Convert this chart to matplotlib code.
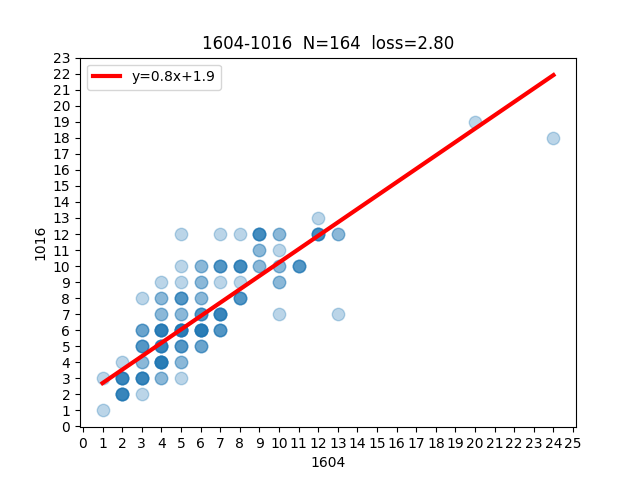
import numpy as np
import matplotlib.pyplot as plt

# (x, y, count); darker dots = more overlapping samples
pts_x = [1, 1, 2, 2, 2, 3, 3, 3, 3, 3, 3, 4, 4, 4, 4, 4, 4, 4,
         5, 5, 5, 5, 5, 5, 5, 5, 5, 6, 6, 6, 6, 6, 6, 7, 7, 7, 7, 7,
         8, 8, 8, 8, 9, 9, 9, 10, 10, 10, 10, 10, 11, 12, 12, 13, 13, 20, 24]
pts_y = [1, 3, 2, 3, 4, 2, 3, 4, 5, 6, 8, 3, 4, 5, 6, 7, 8, 9,
         3, 4, 5, 6, 7, 8, 9, 10, 12, 5, 6, 7, 8, 9, 10, 6, 7, 9, 10, 12,
         8, 9, 10, 12, 10, 11, 12, 7, 9, 10, 11, 12, 10, 12, 13, 7, 12, 19, 18]
counts = [1, 1, 6, 6, 1, 1, 6, 2, 4, 3, 1, 2, 8, 6, 7, 2, 2, 1,
          1, 2, 4, 8, 2, 4, 1, 1, 1, 3, 8, 4, 2, 2, 2, 4, 6, 1, 4, 1,
          4, 1, 5, 1, 2, 2, 5, 1, 2, 2, 1, 2, 4, 5, 1, 1, 2, 1, 1]

slope = 0.835
intercept = 1.87

x = np.repeat(pts_x, counts)
y = np.repeat(pts_y, counts)

fig, ax = plt.subplots(figsize=(6.4, 4.8), dpi=100)
ax.scatter(x, y, s=80, alpha=0.3, color='#1f77b4')
xl = np.array([x.min(), x.max()])
ax.plot(xl, slope * xl + intercept, color='red', linewidth=3, label='y=0.8x+1.9')
ax.set_xticks(range(0, 26))
ax.set_yticks(range(0, 24))
ax.set_xlabel('1604')
ax.set_ylabel('1016')
ax.set_title('1604-1016  N=%d  loss=2.80' % len(x))
ax.legend(loc='upper left')
plt.savefig('out.png')
